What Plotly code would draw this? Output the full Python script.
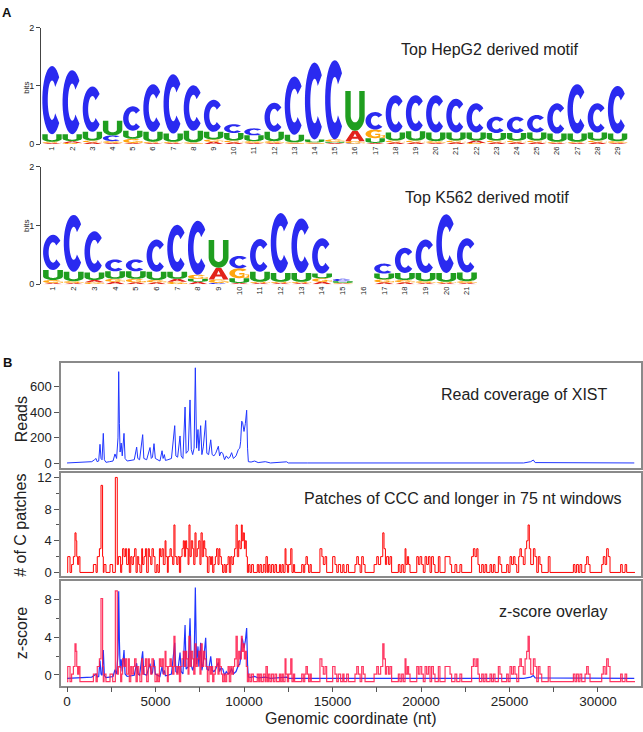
import numpy as np
import plotly.graph_objects as go

# ---------------- A: motif logos (bits per base at each position) ----------------
hepg2_C = [1.17, 1.10, 0.78, 0.10, 0.42, 0.82, 1.02, 0.78, 0.55, 0.15, 0.12, 0.50, 1.00, 1.32, 1.36,
           0.01, 0.30, 0.64, 0.62, 0.64, 0.58, 0.50, 0.28, 0.28, 0.30, 0.52, 0.85, 0.50, 0.82]
hepg2_U = [0.13, 0.12, 0.15, 0.25, 0.14, 0.17, 0.14, 0.20, 0.13, 0.13, 0.10, 0.16, 0.13, 0.05, 0.02,
           0.68, 0.08, 0.14, 0.16, 0.15, 0.14, 0.14, 0.13, 0.13, 0.14, 0.14, 0.14, 0.14, 0.13]
hepg2_A = [0.02, 0.03, 0.03, 0.02, 0.02, 0.02, 0.02, 0.01, 0.04, 0.03, 0.02, 0.02, 0.01, 0.01, 0.02,
           0.18, 0.02, 0.03, 0.03, 0.02, 0.03, 0.04, 0.03, 0.03, 0.03, 0.02, 0.02, 0.03, 0.02]
hepg2_G = [0.02, 0.02, 0.03, 0.03, 0.07, 0.02, 0.02, 0.02, 0.04, 0.03, 0.03, 0.03, 0.02, 0.02, 0.04,
           0.04, 0.15, 0.03, 0.03, 0.03, 0.03, 0.02, 0.03, 0.03, 0.03, 0.02, 0.02, 0.03, 0.03]

k562_C = [0.60, 0.97, 0.70, 0.20, 0.20, 0.55, 0.80, 0.92, 0.02, 0.21, 0.56, 1.02, 0.93, 0.60, 0.04,
          0.00, 0.17, 0.43, 0.57, 1.00, 0.58]
k562_U = [0.17, 0.16, 0.13, 0.13, 0.13, 0.14, 0.12, 0.05, 0.47, 0.08, 0.17, 0.15, 0.15, 0.08, 0.03,
          0.00, 0.10, 0.12, 0.14, 0.15, 0.15]
k562_A = [0.02, 0.02, 0.04, 0.04, 0.03, 0.03, 0.05, 0.04, 0.20, 0.02, 0.02, 0.02, 0.02, 0.04, 0.01,
          0.00, 0.03, 0.03, 0.02, 0.02, 0.02]
k562_G = [0.05, 0.03, 0.03, 0.05, 0.06, 0.04, 0.04, 0.07, 0.06, 0.17, 0.02, 0.02, 0.02, 0.06, 0.01,
          0.00, 0.05, 0.04, 0.03, 0.02, 0.03]

# ---------------- B: XIST read coverage ----------------
read_pos = [0, 500, 1000, 1400, 1550, 1640, 1700, 1790, 1864, 1920, 1980, 2050, 2110, 2200, 2400,
            2600, 2710, 2800, 2880, 2920, 2960, 3000, 3060, 3120, 3220, 3280, 3400, 3600, 3800, 3935,
            4000, 4100, 4275, 4340, 4500, 4690, 4760, 4830, 4915, 4990, 5100, 5250, 5370, 5430, 5500,
            5560, 5700, 5900, 6085, 6150, 6250, 6385, 6450, 6550, 6670, 6730, 6850, 6950, 7020, 7100,
            7180, 7250, 7320, 7400, 7450, 7550, 7620, 7700, 7835, 7900, 8000, 8120, 8200, 8300, 8400,
            8550, 8620, 8700, 8800, 8900, 9000, 9100, 9200, 9300, 9400, 9550, 9680, 9760, 9810, 9870,
            9920, 10000, 10075, 10150, 10200, 10245, 10400, 10600, 10800, 11200, 11500, 12410, 12500,
            13540, 13600, 20000, 25800, 26200, 26345, 26450, 27000, 32050]
read_val = [5, 8, 10, 15, 30, 40, 15, 20, 150, 40, 30, 235, 30, 10, 15,
            20, 75, 40, 200, 715, 310, 90, 160, 60, 235, 40, 20, 25, 30, 128,
            40, 30, 225, 40, 30, 125, 40, 50, 155, 40, 30, 20, 100, 40, 70,
            25, 30, 40, 295, 60, 50, 215, 60, 40, 440, 80, 100, 495, 110, 70,
            120, 745, 120, 265, 100, 295, 70, 130, 335, 80, 70, 185, 70, 60, 80,
            135, 60, 90, 80, 30, 60, 40, 50, 85, 40, 60, 110, 120, 170, 330,
            320, 250, 310, 415, 120, 15, 12, 20, 8, 15, 5, 14, 5,
            10, 5, 5, 5, 15, 28, 8, 8, 5]

# patches of CCC (or longer) in 75 nt windows: value holds from each start until the next
patch_pos = [0, 40, 170, 260, 360, 450, 510, 550, 600, 660, 730, 1490, 1640, 1710, 1830, 1920, 2010,
             2050, 2090, 2200, 2430, 2580, 2730, 2840, 2900, 3030, 3090, 3140, 3220, 3300, 3370, 3470,
             3520, 3600, 3670, 3750, 3820, 3900, 3970, 4050, 4120, 4220, 4270, 4350, 4430, 4500, 4590,
             4650, 4730, 4800, 4880, 4970, 5070, 5140, 5220, 5290, 5370, 5440, 5540, 5590, 5670, 5720,
             5820, 5890, 5970, 6040, 6100, 6200, 6270, 6350, 6420, 6500, 6570, 6630, 6700, 6760, 6840,
             6890, 6950, 7020, 7100, 7160, 7230, 7290, 7360, 7440, 7510, 7570, 7640, 7720, 7780, 7850,
             7930, 8020, 8100, 8170, 8230, 8300, 8380, 8450, 8530, 8590, 8640, 8720, 8790, 8870, 8940,
             9020, 9100, 9170, 9250, 9320, 9400, 9470, 9550, 9620, 9700, 9770, 9850, 9900, 9960, 10020,
             10070, 10130, 10190, 10260, 10340, 10430, 10530, 10750, 10830, 10900, 10980, 11090, 11190,
             11240, 11320, 11390, 11470, 11560, 11660, 11750, 11840, 12000, 12070, 12150, 12220, 12320,
             12370, 12450, 12520, 12640, 12710, 12790, 12860, 13260, 13350, 13430, 13500, 13580, 13650,
             13730, 13800, 14290, 14400, 14480, 14580, 14670, 15010, 15140, 15240, 15330, 15460, 15580,
             15650, 15800, 15900, 16270, 16370, 16460, 16560, 16650, 16740, 16840, 17350, 17500, 17590,
             17720, 17840, 17910, 17990, 18060, 18170, 18250, 18340, 18720, 18810, 18910, 19000, 19100,
             19150, 19230, 19300, 19380, 19760, 19850, 19940, 20040, 20130, 20230, 20320, 20420, 20510,
             20600, 20700, 20790, 20980, 21070, 21360, 21640, 21730, 21920, 22020, 22200, 22300, 22860,
             22960, 23050, 23150, 23220, 23300, 23430, 23520, 23620, 23710, 23900, 23990, 24090, 24180,
             24370, 24460, 24560, 24840, 24930, 25030, 25120, 25220, 25310, 25410, 25520, 25590, 25670,
             25780, 25880, 25970, 26050, 26120, 26200, 26350, 26440, 26540, 26630, 26720, 26820, 27190,
             27290, 28610, 28700, 28790, 28890, 28980, 29080, 29270, 29360, 29450, 29550, 30210, 30300,
             30400, 30490, 30580, 30680, 31280, 31370, 31530, 31620, 32090]
patch_val = [0, 2, 0, 1, 2, 5, 4, 2, 1, 2, 0, 1, 0, 2, 3, 11, 2,
             0, 1, 0, 1, 0, 12, 1, 2, 0, 1, 3, 2, 3, 1, 3,
             0, 2, 1, 2, 3, 0, 2, 1, 0, 3, 1, 2, 3, 0, 3,
             2, 1, 3, 2, 0, 1, 0, 3, 2, 3, 1, 4, 2, 0, 2,
             3, 2, 1, 6, 2, 1, 2, 0, 2, 3, 4, 2, 4, 3, 1,
             6, 2, 4, 3, 1, 5, 2, 3, 4, 1, 5, 2, 4, 3, 2,
             0, 2, 1, 2, 0, 1, 2, 3, 1, 3, 2, 1, 0, 1, 0,
             1, 2, 0, 2, 1, 2, 3, 6, 2, 4, 3, 6, 4, 5, 3,
             4, 2, 0, 1, 0, 1, 0, 1, 0, 1, 0, 1, 0,
             2, 0, 1, 0, 1, 0, 1, 0, 1, 0, 1, 0, 3,
             1, 0, 1, 3, 0, 1, 0, 1, 0, 1, 2, 1, 0,
             1, 0, 3, 2, 1, 2, 0, 2, 1, 0, 1, 0, 1,
             0, 1, 0, 1, 2, 1, 0, 2, 1, 0, 1, 2, 1,
             2, 5, 3, 1, 2, 1, 2, 0, 1, 0, 1, 0, 3,
             1, 2, 1, 0, 2, 1, 2, 1, 0, 2, 1, 2, 0,
             2, 1, 0, 2, 0, 2, 1, 0, 1, 0, 1, 0, 2,
             3, 2, 3, 1, 0, 1, 0, 1, 0, 1, 0, 1, 0,
             2, 1, 0, 1, 0, 2, 1, 2, 1, 0, 2, 3, 2,
             1, 3, 4, 6, 3, 1, 3, 2, 0, 2, 1, 0, 2,
             0, 1, 0, 1, 0, 1, 0, 1, 2, 1, 0, 1, 2,
             1, 3, 2, 0, 1, 0, 1, 0, 0]

# z-score normalisation constants for the overlay
read_mean, read_sd = 32.0, 77.0
patch_mean, patch_sd = 0.875, 1.25

FONT = "Arial, Liberation Sans, sans-serif"
W, H = 643, 732
base_colors = {"A": "#e2231a", "C": "#2a2af0", "G": "#ffa60f", "U": "#1f9e1f"}


def px(x):
    return x / W


def py(y):
    return 1 - y / H


def arc(cx, cy, rx, ry, a0, a1, n=30):
    t = np.radians(np.linspace(a0, a1, n))
    return list(zip(cx + rx * np.cos(t), cy + ry * np.sin(t)))


def glyph(b):
    if b == "C":
        return [arc(.5, .5, .5, .5, 42, 318) + arc(.5, .5, .22, .29, 318, 42)]
    if b == "G":
        ring = arc(.5, .5, .5, .5, 42, 335) + arc(.5, .5, .22, .29, 335, 42)
        bar = [(.5, .38), (1, .38), (1, .52), (.5, .52)]
        stem = [(.76, .06), (1, .06), (1, .52), (.76, .52)]
        return [ring, bar, stem]
    if b == "U":
        return [[(0, 1), (0, .38)] + arc(.5, .38, .5, .38, 180, 360) + [(1, 1), (.72, 1), (.72, .38)]
                + arc(.5, .38, .22, .17, 360, 180) + [(.28, .38), (.28, 1)]]
    # A
    return [[(0, 0), (.37, 1), (.63, 1), (1, 0), (.73, 0), (.65, .24), (.35, .24), (.27, 0)],
            [(.41, .42), (.59, .42), (.5, .74)]]


def letter_path(b, pos, y0, h, w=0.96):
    parts = []
    for poly in glyph(b):
        pts = [f"{pos - w / 2 + u * w:.4f},{y0 + v * h:.5f}" for u, v in poly]
        parts.append("M" + " L".join(pts) + " Z")
    return " ".join(parts)


def logo_shapes(cols, xref, yref):
    shapes = []
    for i in range(len(cols["C"])):
        stack = sorted((cols[b][i], b) for b in "ACGU")
        y0 = 0.0
        for h, b in stack:
            if h > 0.004:
                shapes.append(dict(type="path", path=letter_path(b, i + 1, y0, h),
                                   xref=xref, yref=yref, fillcolor=base_colors[b],
                                   line=dict(width=0), layer="above"))
            y0 += h
    return shapes


hepg2 = {"A": hepg2_A, "C": hepg2_C, "G": hepg2_G, "U": hepg2_U}
k562 = {"A": k562_A, "C": k562_C, "G": k562_G, "U": k562_U}
hepg2_positions = list(range(1, len(hepg2_C) + 1))
k562_positions = list(range(1, len(k562_C) + 1))

read_z = [(v - read_mean) / read_sd for v in read_val]
patch_z = [(v - patch_mean) / patch_sd for v in patch_val]

fig = go.Figure()
blue = "#2036ff"
fig.add_trace(go.Scatter(x=read_pos, y=read_val, mode="lines", line=dict(color=blue, width=1),
                         xaxis="x", yaxis="y", showlegend=False))
fig.add_trace(go.Scatter(x=patch_pos, y=patch_val, mode="lines", line=dict(color="#ff0000", width=1, shape="hv"),
                         xaxis="x2", yaxis="y2", showlegend=False))
fig.add_trace(go.Scatter(x=read_pos, y=read_z, mode="lines", line=dict(color=blue, width=1.2),
                         xaxis="x3", yaxis="y3", showlegend=False))
fig.add_trace(go.Scatter(x=patch_pos, y=patch_z, mode="lines",
                         line=dict(color="rgba(255,20,70,0.85)", width=1.2, shape="hv"),
                         xaxis="x3", yaxis="y3", showlegend=False))
# anchors for the logo axes
fig.add_trace(go.Scatter(x=hepg2_positions, y=[0] * len(hepg2_positions), mode="markers", opacity=0,
                         xaxis="x4", yaxis="y4", showlegend=False, hoverinfo="skip"))
fig.add_trace(go.Scatter(x=k562_positions, y=[0] * len(k562_positions), mode="markers", opacity=0,
                         xaxis="x5", yaxis="y5", showlegend=False, hoverinfo="skip"))

frame = dict(showline=True, mirror=True, linecolor="#8a8a8a", linewidth=1.5, showgrid=False, zeroline=False)
ytick = dict(ticks="outside", ticklen=5, tickcolor="#555", tickfont=dict(size=13, color="#222", family=FONT))
xdom = [px(61), px(641)]
xrng = [-340, 32430]

logo_y = dict(range=[0, 2], tickvals=[0, 1, 2], ticks="outside", ticklen=4, tickcolor="#444",
              showline=True, linecolor="#444", linewidth=1, showgrid=False, zeroline=False,
              tickfont=dict(size=9, color="#222", family=FONT))
logo_x = dict(showline=False, showgrid=False, zeroline=False, ticks="", tickangle=-90,
              tickfont=dict(size=7.5, color="#222", family=FONT))

fig.update_layout(
    width=W, height=H, margin=dict(l=0, r=0, t=0, b=0),
    paper_bgcolor="white", plot_bgcolor="white", showlegend=False,
    font=dict(family=FONT, color="#222"),
    xaxis=dict(domain=xdom, range=xrng, anchor="y", showticklabels=False, ticks="", **frame),
    yaxis=dict(domain=[py(469), py(363)], range=[-31, 782], dtick=200, anchor="x", **frame, **ytick),
    xaxis2=dict(domain=xdom, range=xrng, anchor="y2", showticklabels=False, ticks="", **frame),
    yaxis2=dict(domain=[py(579), py(474)], range=[-0.46, 12.62], dtick=4, anchor="x2",
                minor=dict(dtick=2, ticks="outside", ticklen=3, tickcolor="#555"), **frame, **ytick),
    xaxis3=dict(domain=xdom, range=xrng, anchor="y3", dtick=5000, tickformat="d",
                ticks="outside", ticklen=5, tickcolor="#555", ticklabelstandoff=-3,
                minor=dict(dtick=2500, ticks="outside", ticklen=5, tickcolor="#555"),
                tickfont=dict(size=13.5, color="#222", family=FONT), **frame),
    yaxis3=dict(domain=[py(690), py(584)], range=[-1.12, 9.95], dtick=4, anchor="x3",
                minor=dict(dtick=2, ticks="outside", ticklen=3, tickcolor="#555"), **frame, **ytick),
    xaxis4=dict(domain=[px(41), px(641)], range=[0.455, 30.16], anchor="y4",
                tickvals=hepg2_positions, ticktext=[str(p) for p in hepg2_positions], **logo_x),
    yaxis4=dict(domain=[py(141), py(23)], anchor="x4", **logo_y),
    xaxis5=dict(domain=[px(41), px(641)], range=[0.42, 29.41], anchor="y5",
                tickvals=k562_positions, ticktext=[str(p) for p in k562_positions], **logo_x),
    yaxis5=dict(domain=[py(283), py(164)], anchor="x5", **logo_y),
    shapes=logo_shapes(hepg2, "x4", "y4") + logo_shapes(k562, "x5", "y5"),
)


def note(text, x, y, size, angle=0, bold=False):
    fig.add_annotation(text=f"<b>{text}</b>" if bold else text, x=px(x), y=py(y),
                       xref="paper", yref="paper", showarrow=False, textangle=angle,
                       xanchor="center", yanchor="middle",
                       font=dict(size=size, family=FONT, color="#111" if bold else "#222"))


note("A", 7, 8, 13, bold=True)
note("B", 7, 362, 13, bold=True)
note("Top HepG2 derived motif", 490, 45, 16)
note("Top K562 derived motif", 487, 195, 16)
note("bits", 27, 84, 8, angle=-90)
note("bits", 27, 224, 8, angle=-90)
note("Read coverage of XIST", 524, 395, 16)
note("Patches of CCC and longer in 75 nt windows", 463, 500, 16)
note("z-score overlay", 553, 615, 16)
note("Reads", 21, 420, 16, angle=-90)
note("# of C patches", 21, 528, 16, angle=-90)
note("z-score", 21, 637, 16, angle=-90)
note("Genomic coordinate (nt)", 351, 723, 16)

# drop the page's default body margin so the 643x732 figure fills the window exactly
fig.write_html("out.html", config={"displayModeBar": False},
               post_script="document.body.style.margin='0';document.body.style.overflow='hidden';")
